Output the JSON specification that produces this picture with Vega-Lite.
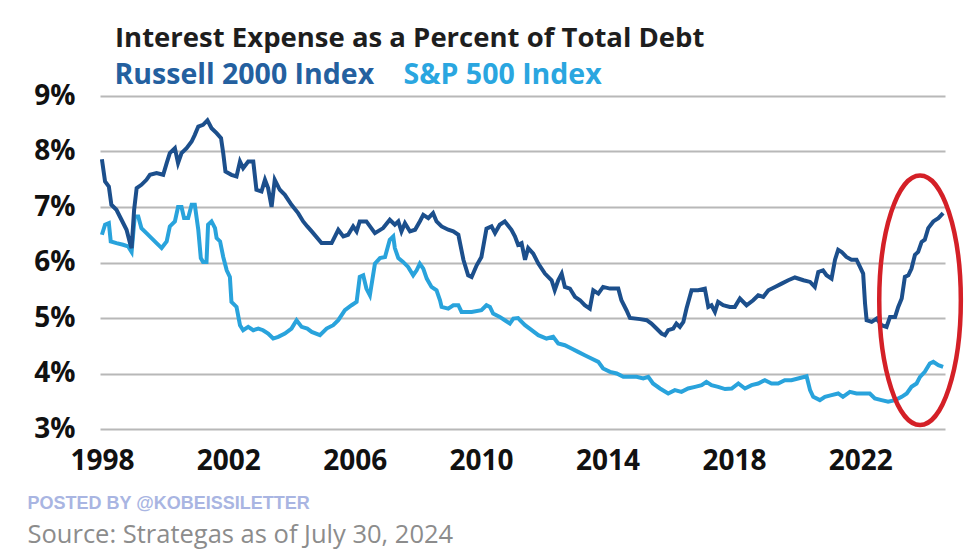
{
  "$schema": "https://vega.github.io/schema/vega-lite/v6.json",
  "width": 845,
  "height": 333,
  "autosize": {"type": "none"},
  "padding": {"left": 100, "top": 96, "right": 19, "bottom": 129},
  "background": "white",
  "config": {"view": {"stroke": null}, "font": "Open Sans"},
  "title": {
    "text": "Interest Expense as a Percent of Total Debt",
    "anchor": "start",
    "frame": "group",
    "dx": 15,
    "dy": -4,
    "offset": 5,
    "font": "Open Sans",
    "fontSize": 27.5,
    "fontWeight": "bold",
    "color": "#1e1e1e"
  },
  "datasets": {
    "russell": [
      {"year": 1998.0, "pct": 7.86}, {"year": 1998.1, "pct": 7.46}, {"year": 1998.22, "pct": 7.37}, {"year": 1998.3, "pct": 7.04},
      {"year": 1998.46, "pct": 6.95}, {"year": 1998.62, "pct": 6.77}, {"year": 1998.78, "pct": 6.59}, {"year": 1998.89, "pct": 6.35},
      {"year": 1998.94, "pct": 6.26}, {"year": 1999.02, "pct": 6.95}, {"year": 1999.1, "pct": 7.34}, {"year": 1999.25, "pct": 7.40},
      {"year": 1999.41, "pct": 7.49}, {"year": 1999.52, "pct": 7.58}, {"year": 1999.73, "pct": 7.61}, {"year": 1999.94, "pct": 7.58},
      {"year": 2000.05, "pct": 7.79}, {"year": 2000.15, "pct": 7.97}, {"year": 2000.31, "pct": 8.06}, {"year": 2000.41, "pct": 7.79},
      {"year": 2000.52, "pct": 7.97}, {"year": 2000.68, "pct": 8.06}, {"year": 2000.84, "pct": 8.18}, {"year": 2000.94, "pct": 8.30},
      {"year": 2001.05, "pct": 8.45}, {"year": 2001.2, "pct": 8.48}, {"year": 2001.34, "pct": 8.56}, {"year": 2001.47, "pct": 8.42},
      {"year": 2001.63, "pct": 8.33}, {"year": 2001.77, "pct": 8.24}, {"year": 2001.84, "pct": 7.97}, {"year": 2001.91, "pct": 7.64},
      {"year": 2002.1, "pct": 7.58}, {"year": 2002.26, "pct": 7.55}, {"year": 2002.37, "pct": 7.82}, {"year": 2002.47, "pct": 7.70},
      {"year": 2002.63, "pct": 7.82}, {"year": 2002.79, "pct": 7.82}, {"year": 2002.89, "pct": 7.31}, {"year": 2003.05, "pct": 7.28},
      {"year": 2003.16, "pct": 7.49}, {"year": 2003.26, "pct": 7.34}, {"year": 2003.37, "pct": 7.0}, {"year": 2003.47, "pct": 7.49},
      {"year": 2003.63, "pct": 7.31}, {"year": 2003.79, "pct": 7.22}, {"year": 2004.0, "pct": 7.04}, {"year": 2004.21, "pct": 6.89},
      {"year": 2004.37, "pct": 6.74}, {"year": 2004.5, "pct": 6.65}, {"year": 2004.64, "pct": 6.56}, {"year": 2004.95, "pct": 6.35},
      {"year": 2005.27, "pct": 6.35}, {"year": 2005.48, "pct": 6.59}, {"year": 2005.64, "pct": 6.47}, {"year": 2005.79, "pct": 6.50},
      {"year": 2005.95, "pct": 6.65}, {"year": 2006.06, "pct": 6.56}, {"year": 2006.16, "pct": 6.74}, {"year": 2006.37, "pct": 6.74},
      {"year": 2006.64, "pct": 6.53}, {"year": 2006.9, "pct": 6.62}, {"year": 2007.11, "pct": 6.77}, {"year": 2007.27, "pct": 6.68},
      {"year": 2007.38, "pct": 6.74}, {"year": 2007.48, "pct": 6.56}, {"year": 2007.59, "pct": 6.71}, {"year": 2007.75, "pct": 6.56},
      {"year": 2007.91, "pct": 6.59}, {"year": 2008.06, "pct": 6.74}, {"year": 2008.17, "pct": 6.86}, {"year": 2008.33, "pct": 6.80},
      {"year": 2008.48, "pct": 6.89}, {"year": 2008.59, "pct": 6.74}, {"year": 2008.75, "pct": 6.65}, {"year": 2008.96, "pct": 6.59},
      {"year": 2009.12, "pct": 6.56}, {"year": 2009.28, "pct": 6.50}, {"year": 2009.44, "pct": 6.05}, {"year": 2009.59, "pct": 5.77},
      {"year": 2009.7, "pct": 5.74}, {"year": 2009.86, "pct": 5.95}, {"year": 2010.01, "pct": 6.10}, {"year": 2010.17, "pct": 6.61},
      {"year": 2010.33, "pct": 6.65}, {"year": 2010.44, "pct": 6.53}, {"year": 2010.59, "pct": 6.68}, {"year": 2010.75, "pct": 6.74},
      {"year": 2010.96, "pct": 6.59}, {"year": 2011.07, "pct": 6.47}, {"year": 2011.17, "pct": 6.32}, {"year": 2011.28, "pct": 6.35},
      {"year": 2011.39, "pct": 6.05}, {"year": 2011.49, "pct": 6.26}, {"year": 2011.65, "pct": 6.16}, {"year": 2011.81, "pct": 5.98},
      {"year": 2012.02, "pct": 5.80}, {"year": 2012.23, "pct": 5.68}, {"year": 2012.33, "pct": 5.50}, {"year": 2012.44, "pct": 5.68},
      {"year": 2012.55, "pct": 5.80}, {"year": 2012.65, "pct": 5.56}, {"year": 2012.81, "pct": 5.53}, {"year": 2012.97, "pct": 5.38},
      {"year": 2013.13, "pct": 5.32}, {"year": 2013.28, "pct": 5.23}, {"year": 2013.44, "pct": 5.17}, {"year": 2013.55, "pct": 5.50},
      {"year": 2013.71, "pct": 5.44}, {"year": 2013.86, "pct": 5.56}, {"year": 2014.08, "pct": 5.53}, {"year": 2014.34, "pct": 5.53},
      {"year": 2014.44, "pct": 5.32}, {"year": 2014.6, "pct": 5.14}, {"year": 2014.71, "pct": 5.0}, {"year": 2015.03, "pct": 4.98},
      {"year": 2015.24, "pct": 4.96}, {"year": 2015.39, "pct": 4.90}, {"year": 2015.55, "pct": 4.81}, {"year": 2015.71, "pct": 4.72},
      {"year": 2015.82, "pct": 4.69}, {"year": 2015.92, "pct": 4.78}, {"year": 2016.08, "pct": 4.81}, {"year": 2016.18, "pct": 4.90},
      {"year": 2016.29, "pct": 4.84}, {"year": 2016.4, "pct": 4.93}, {"year": 2016.5, "pct": 5.17}, {"year": 2016.66, "pct": 5.50},
      {"year": 2016.87, "pct": 5.50}, {"year": 2017.08, "pct": 5.53}, {"year": 2017.19, "pct": 5.20}, {"year": 2017.29, "pct": 5.23},
      {"year": 2017.4, "pct": 5.11}, {"year": 2017.5, "pct": 5.29}, {"year": 2017.66, "pct": 5.23}, {"year": 2017.87, "pct": 5.20},
      {"year": 2018.03, "pct": 5.20}, {"year": 2018.19, "pct": 5.35}, {"year": 2018.4, "pct": 5.23}, {"year": 2018.61, "pct": 5.32},
      {"year": 2018.77, "pct": 5.41}, {"year": 2018.93, "pct": 5.38}, {"year": 2019.09, "pct": 5.50}, {"year": 2019.3, "pct": 5.56},
      {"year": 2019.51, "pct": 5.62}, {"year": 2019.72, "pct": 5.68}, {"year": 2019.93, "pct": 5.73}, {"year": 2020.2, "pct": 5.68},
      {"year": 2020.41, "pct": 5.65}, {"year": 2020.56, "pct": 5.56}, {"year": 2020.67, "pct": 5.83}, {"year": 2020.82, "pct": 5.86},
      {"year": 2020.93, "pct": 5.77}, {"year": 2021.09, "pct": 5.71}, {"year": 2021.2, "pct": 6.05}, {"year": 2021.3, "pct": 6.23},
      {"year": 2021.41, "pct": 6.19}, {"year": 2021.56, "pct": 6.10}, {"year": 2021.72, "pct": 6.05}, {"year": 2021.88, "pct": 6.05},
      {"year": 2021.99, "pct": 5.92}, {"year": 2022.09, "pct": 5.80}, {"year": 2022.15, "pct": 5.26}, {"year": 2022.2, "pct": 4.96},
      {"year": 2022.36, "pct": 4.93}, {"year": 2022.52, "pct": 4.99}, {"year": 2022.67, "pct": 4.87}, {"year": 2022.83, "pct": 4.84},
      {"year": 2022.94, "pct": 5.02}, {"year": 2023.1, "pct": 5.02}, {"year": 2023.2, "pct": 5.20}, {"year": 2023.31, "pct": 5.35},
      {"year": 2023.41, "pct": 5.74}, {"year": 2023.52, "pct": 5.77}, {"year": 2023.62, "pct": 5.89}, {"year": 2023.73, "pct": 6.14},
      {"year": 2023.83, "pct": 6.19}, {"year": 2023.94, "pct": 6.37}, {"year": 2024.04, "pct": 6.41}, {"year": 2024.15, "pct": 6.62},
      {"year": 2024.31, "pct": 6.74}, {"year": 2024.47, "pct": 6.80}, {"year": 2024.62, "pct": 6.89}
    ],
    "sp": [
      {"year": 1998.0, "pct": 6.50}, {"year": 1998.1, "pct": 6.68}, {"year": 1998.22, "pct": 6.71}, {"year": 1998.28, "pct": 6.38},
      {"year": 1998.46, "pct": 6.35}, {"year": 1998.67, "pct": 6.32}, {"year": 1998.83, "pct": 6.29}, {"year": 1998.94, "pct": 6.19},
      {"year": 1999.04, "pct": 6.83}, {"year": 1999.15, "pct": 6.83}, {"year": 1999.25, "pct": 6.62}, {"year": 1999.41, "pct": 6.53},
      {"year": 1999.57, "pct": 6.44}, {"year": 1999.73, "pct": 6.35}, {"year": 1999.89, "pct": 6.26}, {"year": 2000.05, "pct": 6.38},
      {"year": 2000.15, "pct": 6.65}, {"year": 2000.31, "pct": 6.74}, {"year": 2000.41, "pct": 7.0}, {"year": 2000.52, "pct": 7.0},
      {"year": 2000.6, "pct": 6.80}, {"year": 2000.73, "pct": 6.80}, {"year": 2000.84, "pct": 7.04}, {"year": 2000.94, "pct": 7.04},
      {"year": 2001.05, "pct": 6.59}, {"year": 2001.13, "pct": 6.08}, {"year": 2001.2, "pct": 6.01}, {"year": 2001.31, "pct": 6.01},
      {"year": 2001.36, "pct": 6.68}, {"year": 2001.47, "pct": 6.74}, {"year": 2001.58, "pct": 6.62}, {"year": 2001.63, "pct": 6.44},
      {"year": 2001.74, "pct": 6.38}, {"year": 2001.84, "pct": 6.10}, {"year": 2001.95, "pct": 5.86}, {"year": 2002.05, "pct": 5.74},
      {"year": 2002.1, "pct": 5.29}, {"year": 2002.26, "pct": 5.20}, {"year": 2002.37, "pct": 4.87}, {"year": 2002.47, "pct": 4.78},
      {"year": 2002.63, "pct": 4.84}, {"year": 2002.79, "pct": 4.78}, {"year": 2002.95, "pct": 4.81}, {"year": 2003.1, "pct": 4.78},
      {"year": 2003.26, "pct": 4.72}, {"year": 2003.42, "pct": 4.63}, {"year": 2003.58, "pct": 4.66}, {"year": 2003.79, "pct": 4.72},
      {"year": 2004.0, "pct": 4.81}, {"year": 2004.16, "pct": 4.96}, {"year": 2004.32, "pct": 4.84}, {"year": 2004.5, "pct": 4.81},
      {"year": 2004.64, "pct": 4.75}, {"year": 2004.9, "pct": 4.69}, {"year": 2005.11, "pct": 4.81}, {"year": 2005.32, "pct": 4.87},
      {"year": 2005.48, "pct": 4.96}, {"year": 2005.69, "pct": 5.14}, {"year": 2005.9, "pct": 5.23}, {"year": 2006.06, "pct": 5.29},
      {"year": 2006.16, "pct": 5.74}, {"year": 2006.27, "pct": 5.77}, {"year": 2006.37, "pct": 5.53}, {"year": 2006.48, "pct": 5.41},
      {"year": 2006.64, "pct": 5.98}, {"year": 2006.8, "pct": 6.08}, {"year": 2006.96, "pct": 6.10}, {"year": 2007.11, "pct": 6.41},
      {"year": 2007.22, "pct": 6.47}, {"year": 2007.27, "pct": 6.26}, {"year": 2007.38, "pct": 6.08}, {"year": 2007.53, "pct": 6.01},
      {"year": 2007.69, "pct": 5.92}, {"year": 2007.85, "pct": 5.77}, {"year": 2007.96, "pct": 5.86}, {"year": 2008.06, "pct": 5.98},
      {"year": 2008.17, "pct": 5.89}, {"year": 2008.28, "pct": 5.71}, {"year": 2008.43, "pct": 5.56}, {"year": 2008.59, "pct": 5.50},
      {"year": 2008.7, "pct": 5.32}, {"year": 2008.75, "pct": 5.20}, {"year": 2008.96, "pct": 5.17}, {"year": 2009.12, "pct": 5.23},
      {"year": 2009.28, "pct": 5.23}, {"year": 2009.38, "pct": 5.11}, {"year": 2009.7, "pct": 5.11}, {"year": 2010.01, "pct": 5.14},
      {"year": 2010.17, "pct": 5.23}, {"year": 2010.28, "pct": 5.20}, {"year": 2010.38, "pct": 5.08}, {"year": 2010.59, "pct": 5.02},
      {"year": 2010.75, "pct": 4.96}, {"year": 2010.91, "pct": 4.90}, {"year": 2011.02, "pct": 4.99}, {"year": 2011.17, "pct": 5.0},
      {"year": 2011.23, "pct": 4.96}, {"year": 2011.39, "pct": 4.87}, {"year": 2011.6, "pct": 4.78}, {"year": 2011.81, "pct": 4.69},
      {"year": 2012.07, "pct": 4.63}, {"year": 2012.28, "pct": 4.66}, {"year": 2012.44, "pct": 4.54}, {"year": 2012.65, "pct": 4.51},
      {"year": 2012.86, "pct": 4.45}, {"year": 2013.07, "pct": 4.39}, {"year": 2013.28, "pct": 4.33}, {"year": 2013.49, "pct": 4.27},
      {"year": 2013.71, "pct": 4.21}, {"year": 2013.86, "pct": 4.09}, {"year": 2014.08, "pct": 4.03}, {"year": 2014.29, "pct": 4.0},
      {"year": 2014.5, "pct": 3.94}, {"year": 2014.71, "pct": 3.94}, {"year": 2014.92, "pct": 3.94}, {"year": 2015.13, "pct": 3.91},
      {"year": 2015.29, "pct": 3.94}, {"year": 2015.44, "pct": 3.82}, {"year": 2015.66, "pct": 3.73}, {"year": 2015.92, "pct": 3.64},
      {"year": 2016.13, "pct": 3.70}, {"year": 2016.34, "pct": 3.67}, {"year": 2016.55, "pct": 3.73}, {"year": 2016.77, "pct": 3.76},
      {"year": 2016.98, "pct": 3.79}, {"year": 2017.13, "pct": 3.85}, {"year": 2017.29, "pct": 3.79}, {"year": 2017.5, "pct": 3.76},
      {"year": 2017.72, "pct": 3.72}, {"year": 2017.93, "pct": 3.73}, {"year": 2018.14, "pct": 3.82}, {"year": 2018.35, "pct": 3.73},
      {"year": 2018.56, "pct": 3.79}, {"year": 2018.77, "pct": 3.82}, {"year": 2018.98, "pct": 3.88}, {"year": 2019.19, "pct": 3.82},
      {"year": 2019.4, "pct": 3.82}, {"year": 2019.61, "pct": 3.88}, {"year": 2019.82, "pct": 3.88}, {"year": 2020.03, "pct": 3.91},
      {"year": 2020.3, "pct": 3.95}, {"year": 2020.41, "pct": 3.70}, {"year": 2020.51, "pct": 3.58}, {"year": 2020.72, "pct": 3.52},
      {"year": 2020.88, "pct": 3.58}, {"year": 2021.09, "pct": 3.61}, {"year": 2021.3, "pct": 3.64}, {"year": 2021.45, "pct": 3.58},
      {"year": 2021.67, "pct": 3.67}, {"year": 2021.88, "pct": 3.64}, {"year": 2022.09, "pct": 3.64}, {"year": 2022.3, "pct": 3.64},
      {"year": 2022.46, "pct": 3.55}, {"year": 2022.67, "pct": 3.52}, {"year": 2022.88, "pct": 3.49}, {"year": 2023.1, "pct": 3.52},
      {"year": 2023.31, "pct": 3.58}, {"year": 2023.47, "pct": 3.64}, {"year": 2023.62, "pct": 3.76}, {"year": 2023.78, "pct": 3.82},
      {"year": 2023.89, "pct": 3.94}, {"year": 2024.04, "pct": 4.03}, {"year": 2024.2, "pct": 4.18}, {"year": 2024.31, "pct": 4.21},
      {"year": 2024.47, "pct": 4.15}, {"year": 2024.62, "pct": 4.12}
    ],
    "highlight": [{"year": 2023.89, "pct": 5.32}]
  },
  "encoding": {
    "x": {
      "field": "year",
      "type": "quantitative",
      "scale": {"domain": [1997.94, 2024.68], "nice": false, "zero": false},
      "axis": {
        "values": [1998, 2002, 2006, 2010, 2014, 2018, 2022],
        "format": "d",
        "grid": false,
        "domain": false,
        "ticks": false,
        "tickSize": 0,
        "labelFlush": false,
        "labelFont": "Open Sans",
        "labelFontSize": 28,
        "labelFontWeight": "bold",
        "labelColor": "#111111",
        "labelPadding": 18,
        "title": "POSTED BY @KOBEISSILETTER",
        "titleX": -73,
        "titleY": 79,
        "titleAlign": "left",
        "titleBaseline": "alphabetic",
        "titleFont": "Liberation Sans",
        "titleFontSize": 18,
        "titleFontWeight": "bold",
        "titleColor": "#a9b5e2"
      }
    },
    "y": {
      "field": "pct",
      "type": "quantitative",
      "scale": {"domain": [3, 9], "nice": false, "zero": false},
      "axis": {
        "values": [3, 4, 5, 6, 7, 8, 9],
        "labelExpr": "datum.value + '%'",
        "grid": true,
        "gridColor": "#b8b8b8",
        "gridWidth": 2,
        "domain": false,
        "ticks": false,
        "tickSize": 0,
        "labelPadding": 25,
        "labelFont": "Open Sans",
        "labelFontSize": 28,
        "labelFontWeight": "bold",
        "labelColor": "#111111",
        "title": "Source: Strategas as of July 30, 2024",
        "titleAngle": 0,
        "titleX": -73,
        "titleY": 446,
        "titleAlign": "left",
        "titleBaseline": "alphabetic",
        "titleFont": "Open Sans",
        "titleFontSize": 25.5,
        "titleFontWeight": "normal",
        "titleColor": "#8c8c8c"
      }
    }
  },
  "layer": [
    {
      "data": {"name": "sp"},
      "mark": {"type": "line", "strokeWidth": 4},
      "encoding": {
        "color": {
          "datum": "S&P 500 Index",
          "type": "nominal",
          "scale": {"domain": ["Russell 2000 Index", "S&P 500 Index"], "range": ["#1c4f8c", "#29a3dc"]},
          "legend": {
            "orient": "none",
            "legendX": -14,
            "legendY": -35,
            "direction": "horizontal",
            "columns": 2,
            "title": null,
            "symbolSize": 0,
            "symbolOpacity": 0,
            "symbolStrokeWidth": 0,
            "labelOffset": 0,
            "columnPadding": -7,
            "padding": 0,
            "labelFont": "Open Sans",
            "labelFontSize": 28.5,
            "labelFontWeight": "bold",
            "labelLimit": 500,
            "encode": {
              "labels": {
                "update": {
                  "fill": {"signal": "datum.value === 'Russell 2000 Index' ? '#24609f' : '#2aa6e0'"}
                }
              }
            }
          }
        }
      }
    },
    {
      "data": {"name": "russell"},
      "mark": {"type": "line", "strokeWidth": 4},
      "encoding": {
        "color": {"datum": "Russell 2000 Index", "type": "nominal"}
      }
    },
    {
      "data": {"name": "highlight"},
      "mark": {
        "type": "point",
        "shape": "M0,-1C0.18,-1,0.327,-0.552,0.327,0C0.327,0.552,0.18,1,0,1C-0.18,1,-0.327,0.552,-0.327,0C-0.327,-0.552,-0.18,-1,0,-1Z",
        "size": 62250,
        "filled": false,
        "stroke": "#d42027",
        "strokeWidth": 4.5,
        "opacity": 1
      }
    }
  ]
}
